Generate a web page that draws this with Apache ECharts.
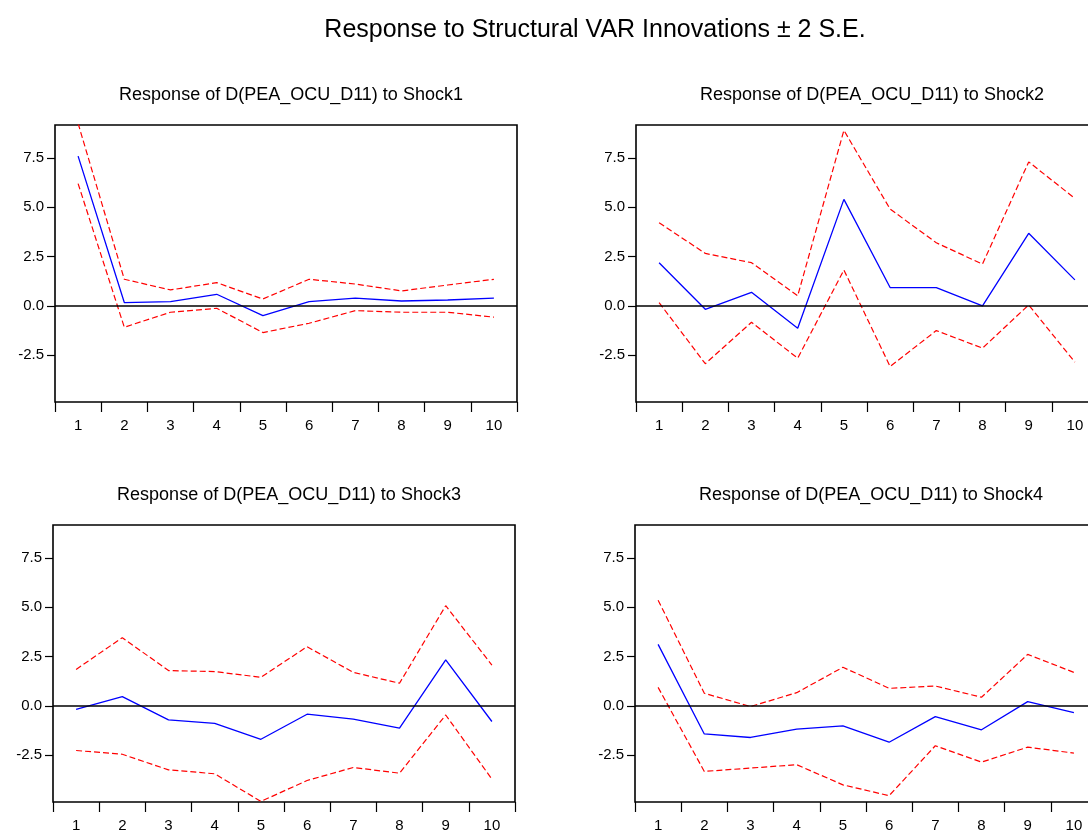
<!DOCTYPE html>
<html>
<head>
<meta charset="utf-8">
<script src="https://cdn.jsdelivr.net/npm/echarts@6/dist/echarts.min.js"></script>
<style>
  html, body { margin: 0; padding: 0; background: #fff; }
  #chart { width: 1088px; height: 834px; }
</style>
</head>
<body>
<div id="chart"></div>
<script>
// horizon 1..10
var periods = ['1', '2', '3', '4', '5', '6', '7', '8', '9', '10'];
var yTicks = [-2.5, 0, 2.5, 5, 7.5];

var shockNames = ['Shock1', 'Shock2', 'Shock3', 'Shock4'];

// response, upper band, lower band
var resp1 = [7.59, 0.17, 0.22, 0.59, -0.49, 0.22, 0.39, 0.25, 0.30, 0.39];
var upper1 = [9.25, 1.35, 0.81, 1.18, 0.35, 1.35, 1.11, 0.76, 1.06, 1.35];
var lower1 = [6.20, -1.08, -0.32, -0.12, -1.35, -0.88, -0.24, -0.32, -0.32, -0.57];

var resp2 = [2.19, -0.17, 0.69, -1.13, 5.40, 0.93, 0.93, 0.00, 3.68, 1.32];
var upper2 = [4.22, 2.66, 2.19, 0.51, 8.90, 4.91, 3.20, 2.12, 7.30, 5.45];
var lower2 = [0.17, -2.93, -0.83, -2.65, 1.82, -3.07, -1.25, -2.14, 0.05, -2.85];

var resp3 = [-0.17, 0.47, -0.71, -0.88, -1.69, -0.42, -0.67, -1.13, 2.33, -0.79];
var upper3 = [1.85, 3.46, 1.79, 1.74, 1.45, 3.00, 1.70, 1.15, 5.08, 2.07];
var lower3 = [-2.26, -2.45, -3.24, -3.44, -4.84, -3.78, -3.12, -3.41, -0.46, -3.71];

var resp4 = [3.12, -1.42, -1.60, -1.18, -1.01, -1.84, -0.54, -1.21, 0.22, -0.34];
var upper4 = [5.36, 0.64, -0.03, 0.67, 1.96, 0.89, 1.01, 0.44, 2.61, 1.70];
var lower4 = [0.94, -3.32, -3.15, -2.98, -4.00, -4.55, -2.02, -2.85, -2.09, -2.39];

var panels = [
  { resp: resp1, upper: upper1, lower: lower1, left: 55, top: 125 },
  { resp: resp2, upper: upper2, lower: lower2, left: 636, top: 125 },
  { resp: resp3, upper: upper3, lower: lower3, left: 53, top: 525 },
  { resp: resp4, upper: upper4, lower: lower4, left: 635, top: 525 }
];

var W = 462, H = 277;
var font = '"Liberation Sans", Arial, sans-serif';

var titles = [{
  text: 'Response to Structural VAR Innovations \u00b1 2 S.E.',
  left: 590, top: 13, textAlign: 'center',
  textStyle: { fontFamily: font, fontSize: 25, fontWeight: 'normal', color: '#000' }
}];
var grids = [], xAxes = [], yAxes = [], series = [];

panels.forEach(function (p, i) {
  titles.push({
    text: 'Response of D(PEA_OCU_D11) to ' + shockNames[i],
    left: p.left + W / 2, top: p.top - 44, textAlign: 'center',
    textStyle: { fontFamily: font, fontSize: 18, fontWeight: 'normal', color: '#000' }
  });
  grids.push({
    left: p.left, top: p.top, width: W, height: H,
    outerBoundsMode: 'none', containLabel: false,
    show: true, borderColor: '#000', borderWidth: 1.6, backgroundColor: '#fff'
  });
  xAxes.push({
    type: 'category', gridIndex: i, data: periods, boundaryGap: true,
    axisLine: { show: false, onZero: false },
    axisTick: { show: true, length: 10, alignWithLabel: false, lineStyle: { color: '#000', width: 1.2 } },
    axisLabel: { fontFamily: font, fontSize: 15, color: '#000', margin: 16 },
    splitLine: { show: false }
  });
  yAxes.push({
    type: 'value', gridIndex: i, min: -4.87, max: 9.17,
    axisLine: { show: false },
    axisTick: { show: true, length: 8, customValues: yTicks, lineStyle: { color: '#000', width: 1.2 } },
    axisLabel: {
      fontFamily: font, fontSize: 15, color: '#000', margin: 11, customValues: yTicks,
      formatter: function (v) { return v.toFixed(1); }
    },
    splitLine: { show: false }
  });
  series.push({
    type: 'line', xAxisIndex: i, yAxisIndex: i, data: p.upper,
    symbol: 'none', silent: true, clip: true,
    lineStyle: { color: '#ff0000', width: 1.2, type: [6, 3] }
  });
  series.push({
    type: 'line', xAxisIndex: i, yAxisIndex: i, data: p.lower,
    symbol: 'none', silent: true, clip: true,
    lineStyle: { color: '#ff0000', width: 1.2, type: [6, 3] }
  });
  series.push({
    type: 'line', xAxisIndex: i, yAxisIndex: i, data: p.resp,
    symbol: 'none', silent: true, clip: true,
    lineStyle: { color: '#0000ff', width: 1.3 },
    markLine: {
      silent: true, symbol: 'none', label: { show: false },
      lineStyle: { color: '#000', width: 1.5, type: 'solid' },
      data: [{ yAxis: 0 }]
    }
  });
});

var chart = echarts.init(document.getElementById('chart'));
chart.setOption({
  animation: false,
  backgroundColor: '#fff',
  title: titles,
  grid: grids,
  xAxis: xAxes,
  yAxis: yAxes,
  series: series
});
</script>
</body>
</html>
